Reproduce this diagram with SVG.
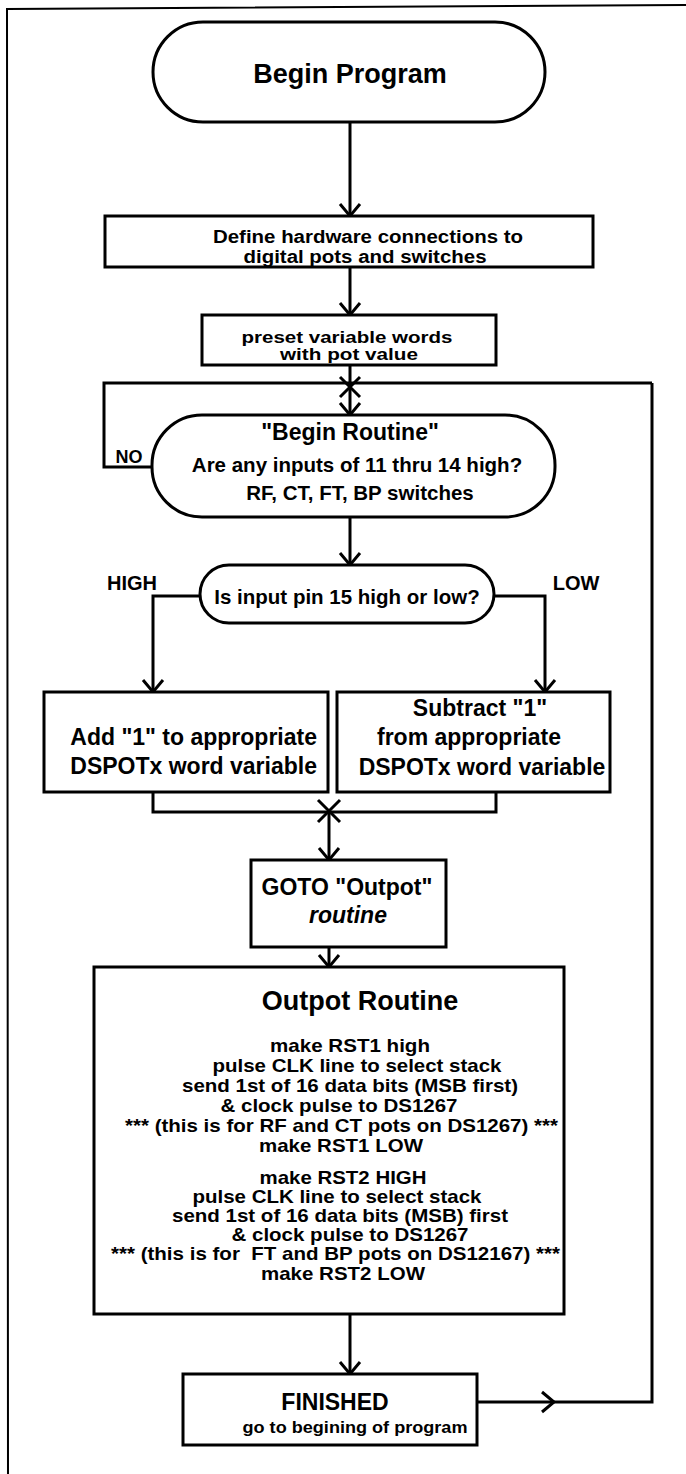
<svg xmlns="http://www.w3.org/2000/svg" width="686" height="1474" viewBox="0 0 686 1474">
<style>
.box{fill:#fff;stroke:#000;stroke-width:3}
.con{fill:none;stroke:#000;stroke-width:3}
.border{fill:none;stroke:#000;stroke-width:2}
text{font-family:"Liberation Sans",Arial,Helvetica,sans-serif;font-weight:bold;fill:#000}
.c{text-anchor:middle}
.e{text-anchor:end}
.op{font-size:18.5px}
</style>
<defs>
<marker id="arr" markerUnits="userSpaceOnUse" markerWidth="30" markerHeight="30" viewBox="-15 -15 30 30" refX="0" refY="0" orient="auto">
<path d="M-12,-10 L0,0 L-12,10" fill="none" stroke="#000" stroke-width="3"/>
</marker>
</defs>
<rect width="686" height="1474" fill="#fff"/>
<path class="border" d="M686,5 L7,9 L8,1474"/>

<g id="connectors">
<path class="con" d="M350,122 V216" marker-end="url(#arr)"/>
<path class="con" d="M350,267 V315" marker-end="url(#arr)"/>
<path class="con" d="M350,365 V387"/>
<path class="con" d="M350,387 V415" marker-end="url(#arr)"/>
<path class="con" d="M340,377 L360,397 M360,377 L340,397"/>
<path class="con" d="M153,467 H104 V383 H652"/>
<path class="con" d="M350,517 V565" marker-end="url(#arr)"/>
<path class="con" d="M200,596 H153 V692" marker-end="url(#arr)"/>
<path class="con" d="M494,596 H545 V692" marker-end="url(#arr)"/>
<path class="con" d="M153,792 V812 H496 V792"/>
<path class="con" d="M318,800 L340,822 M340,800 L318,822"/>
<path class="con" d="M329,812 V860" marker-end="url(#arr)"/>
<path class="con" d="M329,947 V967" marker-end="url(#arr)"/>
<path class="con" d="M350,1314 V1374" marker-end="url(#arr)"/>
<path class="con" d="M477,1402 H554" marker-end="url(#arr)"/>
<path class="con" d="M554,1402 H652 V383"/>
<text x="129" y="463" class="c" font-size="18">NO</text>
<text x="132" y="590" class="c" font-size="20">HIGH</text>
<text x="576" y="590" class="c" font-size="20">LOW</text>
</g>

<g id="begin-program">
<rect class="box" x="153" y="22" width="392" height="100" rx="50" ry="50"/>
<text x="350" y="83" class="c" font-size="27">Begin Program</text>
</g>

<g id="define-hardware">
<rect class="box" x="105" y="216" width="488" height="51"/>
<text x="368" y="243" class="c" font-size="18" textLength="310" lengthAdjust="spacingAndGlyphs">Define hardware connections to</text>
<text x="365" y="263" class="c" font-size="18" textLength="243" lengthAdjust="spacingAndGlyphs">digital pots and switches</text>
</g>

<g id="preset-variables">
<rect class="box" x="202" y="315" width="294" height="50"/>
<text x="347" y="343" class="c" font-size="16.5" textLength="211" lengthAdjust="spacingAndGlyphs">preset variable words</text>
<text x="349" y="360" class="c" font-size="16.5" textLength="138" lengthAdjust="spacingAndGlyphs">with pot value</text>
</g>

<g id="begin-routine">
<rect class="box" x="152" y="415" width="403" height="102" rx="50" ry="50"/>
<text x="350" y="440" class="c" font-size="23">"Begin Routine"</text>
<text x="357" y="472" class="c" font-size="20.5">Are any inputs of 11 thru 14 high?</text>
<text x="360" y="500" class="c" font-size="20.5">RF, CT, FT, BP switches</text>
</g>

<g id="input-pin-15">
<rect class="box" x="200" y="565" width="294" height="58" rx="29" ry="29"/>
<text x="347" y="604" class="c" font-size="20.5">Is input pin 15 high or low?</text>
</g>

<g id="add-one">
<rect class="box" x="44" y="692" width="284" height="100"/>
<text x="317" y="745" class="e" font-size="23">Add "1" to appropriate</text>
<text x="317" y="774" class="e" font-size="23">DSPOTx word variable</text>
</g>

<g id="subtract-one">
<rect class="box" x="337" y="692" width="273" height="100"/>
<text x="480" y="716" class="c" font-size="23">Subtract "1"</text>
<text x="469" y="745" class="c" font-size="23">from appropriate</text>
<text x="482" y="775" class="c" font-size="23">DSPOTx word variable</text>
</g>

<g id="goto-outpot">
<rect class="box" x="251" y="860" width="195" height="87"/>
<text x="347" y="895" class="c" font-size="23">GOTO "Outpot"</text>
<text x="348" y="923" class="c" font-size="23" font-style="italic">routine</text>
</g>

<g id="outpot-routine">
<rect class="box" x="94" y="967" width="470" height="347"/>
<text x="360" y="1010" class="c" font-size="27">Outpot Routine</text>
<text x="350" y="1052" class="c op" textLength="160" lengthAdjust="spacingAndGlyphs">make RST1 high</text>
<text x="357" y="1072" class="c op" textLength="289" lengthAdjust="spacingAndGlyphs">pulse CLK line to select stack</text>
<text x="518" y="1092" class="e op" textLength="336" lengthAdjust="spacingAndGlyphs">send 1st of 16 data bits (MSB first)</text>
<text x="339" y="1112" class="c op" textLength="237" lengthAdjust="spacingAndGlyphs">&amp; clock pulse to DS1267</text>
<text x="558" y="1132" class="e op" textLength="433" lengthAdjust="spacingAndGlyphs">*** (this is for RF and CT pots on DS1267) ***</text>
<text x="341" y="1152" class="c op" textLength="164" lengthAdjust="spacingAndGlyphs">make RST1 LOW</text>
<text x="343" y="1184" class="c op" textLength="167" lengthAdjust="spacingAndGlyphs">make RST2 HIGH</text>
<text x="337" y="1203" class="c op" textLength="289" lengthAdjust="spacingAndGlyphs">pulse CLK line to select stack</text>
<text x="508" y="1222" class="e op" textLength="336" lengthAdjust="spacingAndGlyphs">send 1st of 16 data bits (MSB) first</text>
<text x="350" y="1241" class="c op" textLength="237" lengthAdjust="spacingAndGlyphs">&amp; clock pulse to DS1267</text>
<text x="560" y="1260" class="e op" textLength="449" lengthAdjust="spacingAndGlyphs" style="white-space:pre">*** (this is for  FT and BP pots on DS12167) ***</text>
<text x="343" y="1280" class="c op" textLength="164" lengthAdjust="spacingAndGlyphs">make RST2 LOW</text>
</g>

<g id="finished">
<rect class="box" x="183" y="1374" width="294" height="71"/>
<text x="335" y="1410" class="c" font-size="23">FINISHED</text>
<text x="355" y="1433" class="c" font-size="17" textLength="225" lengthAdjust="spacingAndGlyphs">go to begining of program</text>
</g>
</svg>
